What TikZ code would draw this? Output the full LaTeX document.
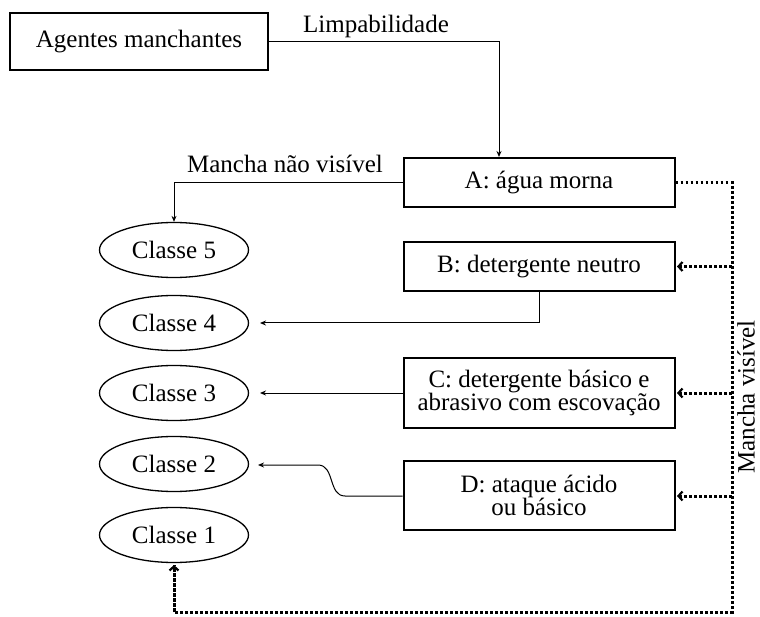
\documentclass[tikz,border=0pt]{standalone}
\usepackage{fontspec}
\setmainfont{Liberation Serif}
\usetikzlibrary{shapes.geometric,arrows.meta}
\begin{document}
\begin{tikzpicture}[x=1pt,y=-1pt,
  every node/.style={font=\fontsize{25}{23}\selectfont, inner sep=0pt},
  box/.style={draw, line width=2pt, minimum width=271pt, align=center},
  cls/.style={draw, ellipse, line width=1.3pt, minimum width=149pt, minimum height=55pt},
  conn/.style={line width=1pt, -{Stealth[length=6pt,width=5pt]}},
  dots/.style={line width=3pt, dash pattern=on 2.6pt off 2.4pt},
  dotarrow/.style={dots, -{Straight Barb[length=4pt,width=9pt,line width=2.2pt]}}
]
\useasboundingbox (0,0) rectangle (760,617);

\node[box, minimum width=258pt, minimum height=57pt] (ag) at (139,41.5) {Agentes manchantes};
\node[box, minimum height=49pt] (A) at (539,182.5) {A: água morna};
\node[box, minimum height=49pt] (B) at (539,266.5) {B: detergente neutro};
\node[box, minimum height=70pt] (C) at (539,393) {C: detergente básico e\\abrasivo com escovação};
\node[box, minimum height=69pt] (D) at (539,495.5) {D: ataque ácido\\ou básico};

\node[cls] (c5) at (174,250) {Classe 5};
\node[cls] (c4) at (174,323) {Classe 4};
\node[cls] (c3) at (174,393) {Classe 3};
\node[cls] (c2) at (174,464) {Classe 2};
\node[cls] (c1) at (174,535) {Classe 1};

% solid connectors
\coordinate (limp) at (499,41.5);
\draw[conn] (ag.east) -- (limp) -- (A.north -| limp);
\node (limplab) at (376,26) {Limpabilidade};

\draw[conn] (A.west) -| (c5.north);
\node (naovis) at (285,164) {Mancha não visível};

\coordinate (c4t) at (260,323);
\draw[conn] (B.south) |- (c4t);

\coordinate (c3t) at (260,393);
\draw[conn] (C.west) -- (c3t);

\coordinate (d1) at (345,496);
\coordinate (d2) at (318,465);
\coordinate (c2t) at (258,465);
\draw[conn] (D.west |- d1) -- (d1) .. controls (328,496) and (335,465) .. (d2) -- (c2t);

% dotted loop
\coordinate (vr) at (732,182.5);
\coordinate (vb) at (732,612);
\coordinate (hb) at (174,612);
\coordinate (c1t) at (174,565);
\draw[dots] (A.east) -- (vr) -- (vb) -- (hb) -- (c1t);
\draw[dotarrow] (hb) -- (c1t);
\coordinate (bt) at (677,266.5);
\coordinate (ct) at (677,393);
\coordinate (dt) at (677,496);
\draw[dotarrow] (vr |- bt) -- (bt);
\draw[dotarrow] (vr |- ct) -- (ct);
\draw[dotarrow] (vr |- dt) -- (dt);

\node[rotate=90, anchor=base] (vis) at (754.5,397) {Mancha visível};
\end{tikzpicture}
\end{document}
